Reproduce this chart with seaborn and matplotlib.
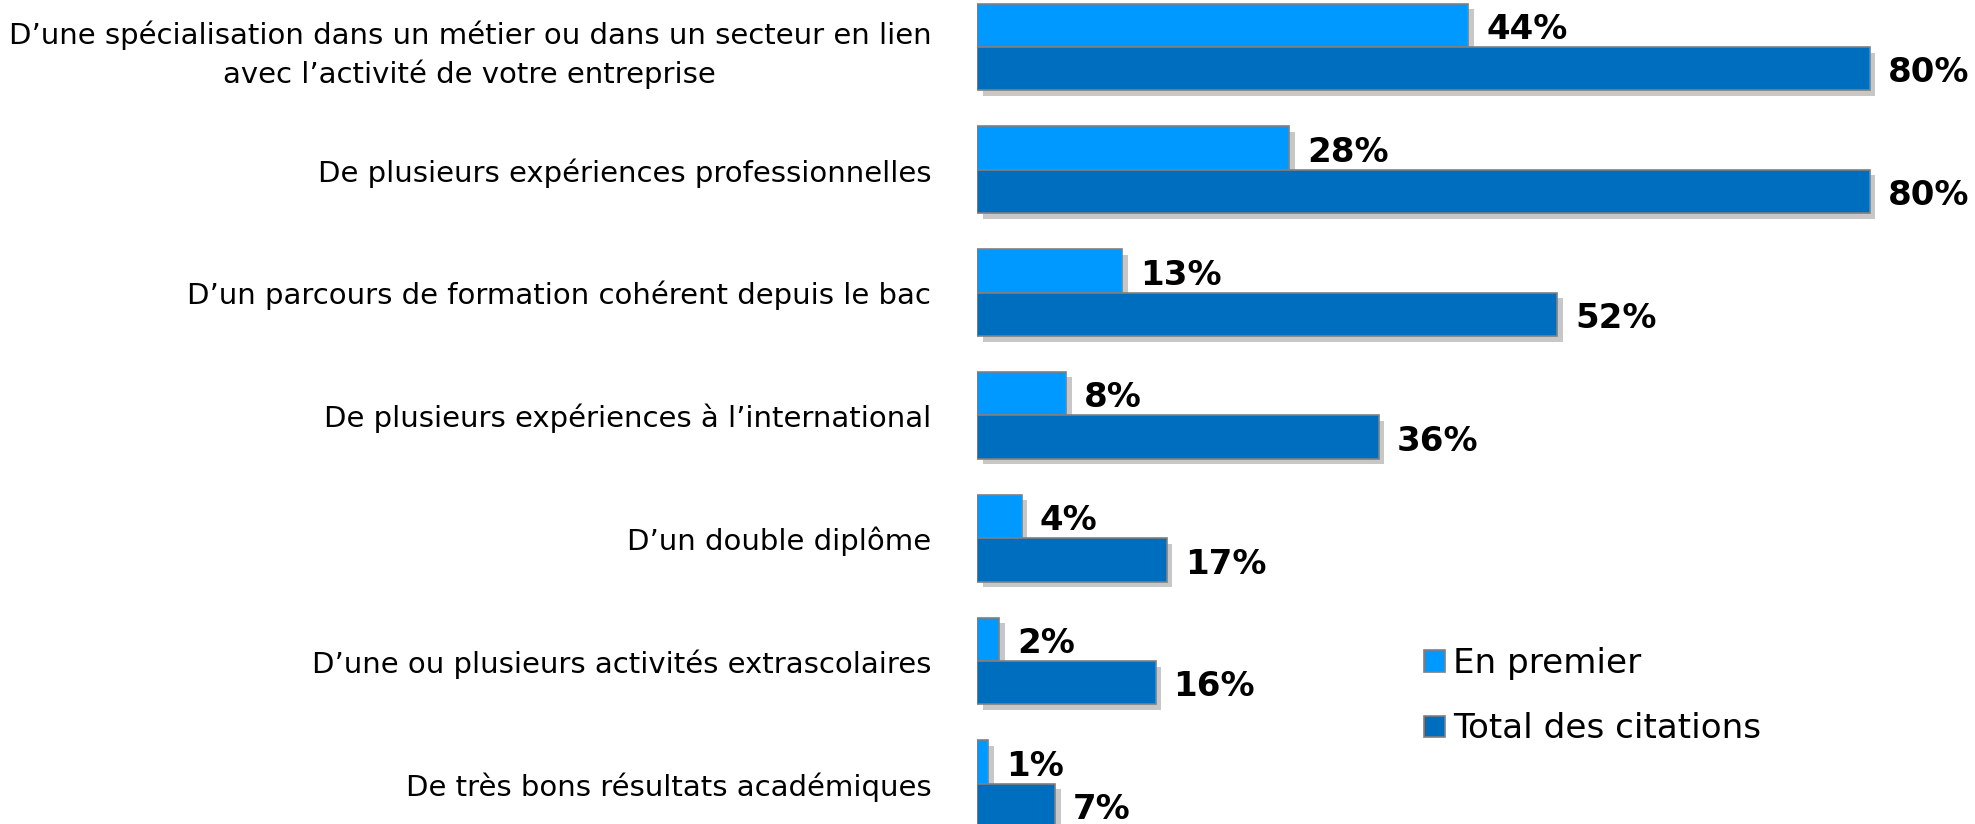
import matplotlib
matplotlib.use('Agg')
import matplotlib.pyplot as plt
import matplotlib.patheffects as pe
from matplotlib.patches import Patch
import seaborn as sns
import pandas as pd

# Data
categories = [
    "D\u2019une spécialisation dans un métier ou dans un secteur en lien\navec l\u2019activité de votre entreprise",
    "De plusieurs expériences professionnelles",
    "D\u2019un parcours de formation cohérent depuis le bac",
    "De plusieurs expériences à l\u2019international",
    "D\u2019un double diplôme",
    "D\u2019une ou plusieurs activités extrascolaires",
    "De très bons résultats académiques",
]
series = ["En premier", "Total des citations"]
en_premier = [44, 28, 13, 8, 4, 2, 1]
total_citations = [80, 80, 52, 36, 17, 16, 7]
colors = ["#0099FF", "#006EBE"]

df = pd.DataFrame({
    "categorie": categories * 2,
    "serie": [series[0]] * len(categories) + [series[1]] * len(categories),
    "valeur": en_premier + total_citations,
})

sns.set_style("white")
plt.rcParams['font.family'] = ['DejaVu Sans']
plt.rcParams['text.color'] = 'black'
plt.rcParams['ytick.labelcolor'] = 'black'

W, H = 1975, 824
fig = plt.figure(figsize=(W / 100, H / 100), dpi=100)
x0 = 977
ax = fig.add_axes([x0 / W, 0, (W - x0) / W, 1])

sns.barplot(data=df, y="categorie", x="valeur", hue="serie", orient="h",
            palette=colors, saturation=1, width=0.708, edgecolor="#808080",
            linewidth=1.2, legend=False, ax=ax)

# soft drop shadow under the bars
shadow = [pe.withSimplePatchShadow(offset=(4, -4), shadow_rgbFace="black", alpha=0.22)]
for patch in ax.patches:
    patch.set_path_effects(shadow)

for cont in ax.containers:
    labels = ax.bar_label(cont, fmt="%d%%", padding=13, fontsize=24.5,
                          fontweight="bold", color="black")
    for lab in labels:
        lab.xyann = (13, -3)

px_per_pct = 11.16
ax.set_xlim(0, (W - x0) / px_per_pct)
pitch = 122.8
ax.set_ylim((H - 47) / pitch, -47 / pitch)

sns.despine(ax=ax, left=True, bottom=True)
ax.set_xticks([])
ax.set_xlabel("")
ax.set_ylabel("")
ax.tick_params(axis="y", length=0, pad=33, labelsize=21)
for lab in ax.get_yticklabels():
    lab.set_multialignment("center")
    lab.set_linespacing(1.4)

handles = [Patch(facecolor=c, edgecolor="#808080", linewidth=1.2) for c in colors]
fig.legend(handles, series, loc="upper left",
           bbox_to_anchor=(1424 / W, 1 - 647 / H), frameon=False,
           fontsize=24.6, handlelength=0.6, handleheight=0.6,
           handletextpad=0.25, labelspacing=0.95, borderpad=0, borderaxespad=0)

fig.savefig("out.png", dpi=100)
